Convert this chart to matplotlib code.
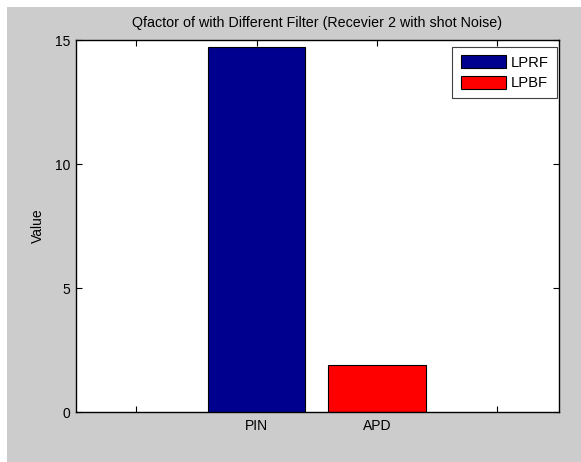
import matplotlib
matplotlib.use("Agg")
import matplotlib.pyplot as plt
from matplotlib.patches import Rectangle

plt.rcParams['font.family'] = ['Liberation Sans', 'DejaVu Sans']

title = "Qfactor of with Different Filter (Recevier 2 with shot Noise)"
tick_labels = ["", "PIN", "APD", ""]
series_names = ["LPRF", "LPBF"]
series_pos = [1, 2]
series_values = [14.71, 1.89]
series_colors = ["#00008F", "#FF0000"]
yticks = [0, 5, 10, 15]

fig = plt.figure(figsize=(5.81, 4.62), dpi=100)
fig.patch.set_facecolor("white")
fig.patches.append(Rectangle((7 / 581, 0), 1, 1 - 7 / 462, transform=fig.transFigure,
                             facecolor="#CCCCCC", edgecolor="none", zorder=-10))

ax = fig.add_axes([76 / 581, 1 - 412.3 / 462, (558.7 - 76) / 581, (412.3 - 40) / 462])
ax.set_facecolor("white")

for name, x, v, c in zip(series_names, series_pos, series_values, series_colors):
    ax.bar(x, v, width=0.81, color=c, edgecolor="#000000", linewidth=0.8, label=name, zorder=2)

ax.set_xlim(-0.5, 3.51)
ax.set_ylim(0, 15)
ax.set_xticks(range(len(tick_labels)))
ax.set_xticklabels(tick_labels)
ax.set_yticks(yticks)
ax.tick_params(direction="in", length=4, width=0.8, top=True, right=True,
               labelsize=10, colors="black", pad=4)
ax.tick_params(axis="x", pad=5)
for s in ax.spines.values():
    s.set_linewidth(1.0)
    s.set_color("black")

ax.set_ylabel("Value", fontsize=10, labelpad=7)
ax.set_title(title, fontsize=10.3, pad=9)

leg = ax.legend(loc="upper right", bbox_to_anchor=(0.9955, 0.9812), borderaxespad=0,
                fontsize=10.6, handlelength=3.1, handleheight=0.96, fancybox=False,
                framealpha=1, edgecolor="#404040", borderpad=0.55, labelspacing=0.43,
                handletextpad=0.3)
leg.get_frame().set_linewidth(0.8)

fig.savefig("out.png", dpi=100)
